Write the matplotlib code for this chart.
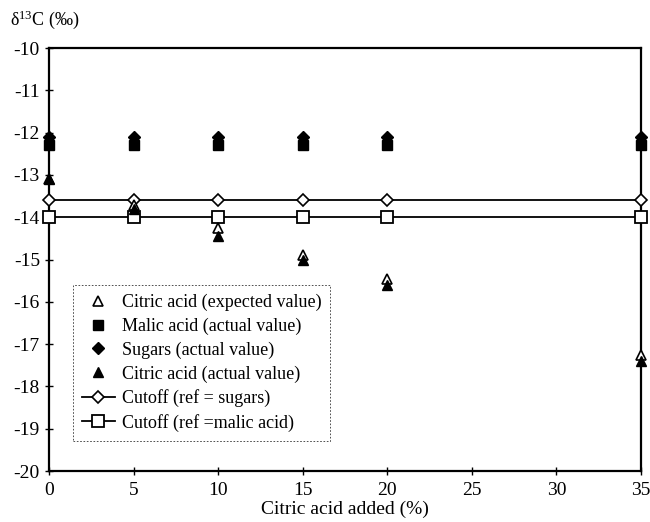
import numpy as np
import matplotlib
matplotlib.use('Agg')
import matplotlib.pyplot as plt

plt.rcParams['font.family'] = ['Liberation Serif', 'DejaVu Serif']
plt.rcParams['axes.unicode_minus'] = False

# citric acid added (%)
x = [0, 5, 10, 15, 20, 35]

citric_expected = [-13.1, -13.7, -14.25, -14.9, -15.45, -17.25]
malic_actual = [-12.3, -12.3, -12.3, -12.3, -12.3, -12.3]
sugars_actual = [-12.1, -12.1, -12.1, -12.1, -12.1, -12.1]
citric_actual = [-13.1, -13.8, -14.45, -15.0, -15.6, -17.4]
cutoff_sugars = [-13.6, -13.6, -13.6, -13.6, -13.6, -13.6]
cutoff_malic = [-14.0, -14.0, -14.0, -14.0, -14.0, -14.0]

fig = plt.figure(figsize=(6.5, 5.22), dpi=100)
ax = fig.add_axes([0.0754, 0.0977, 0.9106, 0.8103])

ax.plot(x, cutoff_sugars, color='black', lw=1.3, marker='D', ms=6,
        mfc='white', mec='black', mew=1.2, clip_on=False, zorder=3,
        label='Cutoff (ref = sugars)')
ax.plot(x, cutoff_malic, color='black', lw=1.3, marker='s', ms=8,
        mfc='white', mec='black', mew=1.3, clip_on=False, zorder=3,
        label='Cutoff (ref =malic acid)')
ax.plot(x, malic_actual, ls='none', marker='s', ms=7, color='black',
        clip_on=False, zorder=4, label='Malic acid (actual value)')
ax.plot(x, sugars_actual, ls='none', marker='D', ms=6, color='black',
        clip_on=False, zorder=4, label='Sugars (actual value)')
ax.plot(x, citric_expected, ls='none', marker='^', ms=7, mfc='white',
        mec='black', mew=1.2, clip_on=False, zorder=4,
        label='Citric acid (expected value)')
ax.plot(x, citric_actual, ls='none', marker='^', ms=7, color='black',
        clip_on=False, zorder=5, label='Citric acid (actual value)')

ax.set_xlim(0, 35)
ax.set_ylim(-20, -10)
ax.set_xticks(np.arange(0, 36, 5))
ax.set_yticks(np.arange(-20, -9, 1))
ax.tick_params(direction='inout', length=6, width=1, labelsize=14)
ax.tick_params(axis='x', pad=5)
for s in ax.spines.values():
    s.set_linewidth(1.6)

ax.set_xlabel('Citric acid added (%)', fontsize=14, labelpad=1)
fig.text(0.015, 0.962, r'$\mathregular{\delta^{13}}$C (‰)', fontsize=13,
         ha='left', va='center')

h, l = ax.get_legend_handles_labels()
order = [4, 2, 3, 5, 0, 1]
leg = ax.legend([h[i] for i in order], [l[i] for i in order],
                loc='upper left', bbox_to_anchor=(0.0405, 0.44),
                borderaxespad=0, fontsize=13, frameon=True, fancybox=False,
                handlelength=1.8, handletextpad=0.4, borderpad=0.5,
                labelspacing=0.36)
leg.get_frame().set_edgecolor('black')
leg.get_frame().set_linewidth(0.6)
leg.get_frame().set_linestyle((0, (2, 2)))

fig.savefig('out.png', dpi=100)
